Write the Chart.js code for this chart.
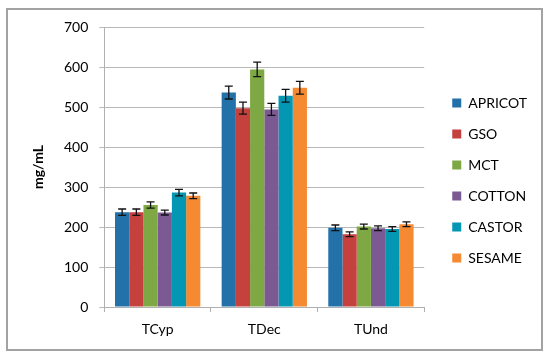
<!DOCTYPE html>
<html><head><meta charset="utf-8">
<script src="https://cdn.jsdelivr.net/npm/chart.js@4"></script>
<style>
html,body{margin:0;padding:0;background:#fff;}
#wrap{position:relative;width:550px;height:356px;}
#frame{position:absolute;left:6px;top:8px;width:533px;height:339px;border:2px solid #a3a3a3;pointer-events:none;}
canvas{position:absolute;left:0;top:0;}
</style></head>
<body>
<div id="wrap"><canvas id="c" width="550" height="356"></canvas><div id="frame"></div></div>
<script>
const categories = ['TCyp', 'TDec', 'TUnd'];
const seriesNames = ['APRICOT', 'GSO', 'MCT', 'COTTON', 'CASTOR', 'SESAME'];
const apricot = [237, 536, 198];
const gso     = [237, 497, 182];
const mct     = [255, 594, 201];
const cotton  = [236, 494, 197];
const castor  = [286, 528, 195];
const sesame  = [278, 548, 207];
const apricotErr = [8, 16, 7];
const gsoErr     = [8, 15, 6];
const mctErr     = [8, 18, 6];
const cottonErr  = [6, 15, 6];
const castorErr  = [8, 16, 6];
const sesameErr  = [7, 16, 6];
const yTicks = [0, 100, 200, 300, 400, 500, 600, 700];
const colors = ['#2271a9', '#c5413e', '#7ea843', '#7b5a94', '#0497b4', '#f68a33'];

const values = [apricot, gso, mct, cotton, castor, sesame];
const errors = [apricotErr, gsoErr, mctErr, cottonErr, castorErr, sesameErr];

const errorBars = {
  id: 'errorBars',
  afterDatasetsDraw(chart) {
    const ctx = chart.ctx;
    const y = chart.scales.y;
    ctx.save();
    ctx.strokeStyle = '#111';
    ctx.lineWidth = 1.3;
    chart.data.datasets.forEach((ds, di) => {
      const meta = chart.getDatasetMeta(di);
      meta.data.forEach((bar, i) => {
        const v = ds.data[i], e = ds.err[i];
        const yt = y.getPixelForValue(v + e), yb = y.getPixelForValue(v - e);
        const x = bar.x, w = 4;
        ctx.beginPath();
        ctx.moveTo(x, yt); ctx.lineTo(x, yb);
        ctx.moveTo(x - w, yt); ctx.lineTo(x + w, yt);
        ctx.moveTo(x - w, yb); ctx.lineTo(x + w, yb);
        ctx.stroke();
      });
    });
    ctx.restore();
  }
};

const font = 'Lato';
function build() {
  new Chart(document.getElementById('c'), {
    type: 'bar',
    data: {
      labels: categories,
      datasets: seriesNames.map((n, i) => ({
        label: n, data: values[i], err: errors[i],
        backgroundColor: colors[i], borderWidth: 0,
        categoryPercentage: 0.8, barPercentage: 1.0
      }))
    },
    options: {
      responsive: false, animation: false,
      layout: { padding: { left: 23, top: 23, right: 13, bottom: 18 } },
      plugins: {
        legend: {
          position: 'right',
          labels: { boxWidth: 9, boxHeight: 9, padding: 17, color: '#000', font: { family: font, size: 14 } }
        },
        tooltip: { enabled: false }
      },
      scales: {
        x: {
          grid: { offset: true, drawOnChartArea: false, color: '#b0b0b0', tickLength: 5, lineWidth: 1 },
          border: { color: '#b0b0b0', width: 1 },
          ticks: { color: '#000', font: { family: font, size: 14 }, padding: 9 },
          afterFit(s) { s.height = 31; }
        },
        xTop: {
          type: 'category', position: 'top', display: false,
          afterFit(s) { s.height = 4; }
        },
        y: {
          min: 0, max: 700,
          afterBuildTicks(s) { s.ticks = yTicks.map(v => ({ value: v })); },
          grid: { color: '#b8b8b8', tickLength: 5, lineWidth: 1 },
          border: { color: '#b0b0b0', width: 1 },
          ticks: { color: '#000', font: { family: font, size: 14 }, padding: 11 },
          title: { display: true, text: 'mg/mL', color: '#000', font: { family: font, size: 14, weight: 'bold' }, padding: 6.6 }
        },
        yR: {
          position: 'right', display: false,
          afterFit(s) { s.width = 11; }
        }
      }
    },
    plugins: [errorBars]
  });
}
Promise.all([
  document.fonts.load('14px Lato'),
  document.fonts.load('bold 14px Lato')
]).then(build, build);
</script>
</body></html>
